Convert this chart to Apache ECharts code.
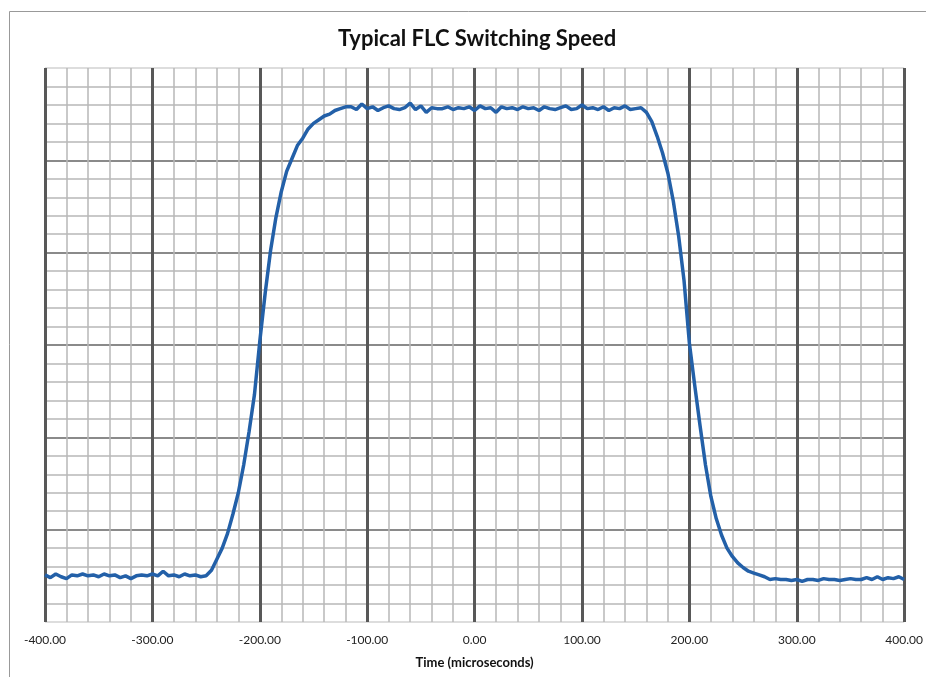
<!DOCTYPE html>
<html>
<head>
<meta charset="utf-8">
<script src="https://cdn.jsdelivr.net/npm/echarts@6/dist/echarts.min.js"></script>
<style>
html,body{margin:0;padding:0;background:#fff;}
#chart{width:926px;height:677px;}
</style>
</head>
<body>
<div id="chart"></div>
<script>
// Time (microseconds)
const times = [
-400,-395,-390,-385,-380,-375,-370,-365,-360,-355,-350,-345,-340,-335,-330,-325,-320,-315,-310,-305,
-300,-295,-290,-285,-280,-275,-270,-265,-260,-255,-250,-245,-240,-235,-230,-225,-220,-215,-210,-205,
-200,-195,-190,-185,-180,-175,-170,-165,-160,-155,-150,-145,-140,-135,-130,-125,-120,-115,-110,-105,
-100,-95,-90,-85,-80,-75,-70,-65,-60,-55,-50,-45,-40,-35,-30,-25,-20,-15,-10,-5,
0,5,10,15,20,25,30,35,40,45,50,55,60,65,70,75,80,85,90,95,
100,105,110,115,120,125,130,135,140,145,150,155,160,165,170,175,180,185,190,195,
200,205,210,215,220,225,230,235,240,245,250,255,260,265,270,275,280,285,290,295,
300,305,310,315,320,325,330,335,340,345,350,355,360,365,370,375,380,385,390,395,400
];
// Optical response (arbitrary units)
const signal = [
2.55,2.40,2.60,2.45,2.35,2.55,2.50,2.60,2.50,2.55,2.45,2.60,2.50,2.55,2.40,2.50,2.35,2.50,2.55,2.50,
2.60,2.50,2.75,2.50,2.55,2.45,2.60,2.50,2.55,2.45,2.50,2.80,3.40,4.00,4.80,5.85,7.00,8.50,10.30,12.30,
15.20,17.80,20.10,21.90,23.30,24.40,25.10,25.80,26.20,26.70,27.00,27.20,27.40,27.50,27.70,27.80,27.90,27.90,27.75,28.05,
27.80,27.90,27.70,27.85,27.95,27.80,27.75,27.85,28.10,27.75,27.95,27.60,27.85,27.80,27.80,27.90,27.75,27.85,27.80,27.90,
27.70,27.95,27.80,27.85,27.60,27.90,27.80,27.85,27.75,27.90,27.80,27.85,27.70,27.90,27.80,27.75,27.85,27.95,27.75,27.80,
28.00,27.80,27.85,27.75,27.90,27.70,27.85,27.80,27.95,27.75,27.80,27.85,27.60,27.10,26.30,25.40,24.30,22.80,20.90,18.50,
15.10,12.80,10.60,8.50,6.80,5.60,4.70,4.00,3.55,3.20,2.95,2.75,2.65,2.55,2.45,2.30,2.35,2.30,2.30,2.25,
2.30,2.20,2.30,2.30,2.25,2.35,2.30,2.30,2.25,2.30,2.35,2.30,2.30,2.40,2.30,2.45,2.30,2.40,2.35,2.45,2.30
];
const titleText = 'Typical FLC Switching Speed';
const xName = 'Time (microseconds)';

const points = times.map((t, i) => [t, signal[i]]);

const chart = echarts.init(document.getElementById('chart'), null, {renderer: 'canvas'});
chart.setOption({
  backgroundColor: '#ffffff',
  animation: false,
  title: {
    text: titleText,
    left: 333,
    top: 23,
    textStyle: {fontFamily: 'Lato', fontWeight: 'bold', fontSize: 22, color: '#111'}
  },
  graphic: [{
    type: 'rect',
    shape: {x: 9.5, y: 11.5, width: 940, height: 700},
    style: {fill: 'none', stroke: '#999', lineWidth: 1},
    silent: true, z: -10
  }],
  grid: {
    left: 45, right: 20, top: 68, bottom: 55,
    show: true, borderColor: '#bbb', borderWidth: 1,
    containLabel: false
  },
  xAxis: {
    type: 'value',
    min: -400, max: 400, interval: 100,
    name: xName,
    nameLocation: 'middle',
    nameGap: 34,
    nameTextStyle: {fontFamily: 'Lato', fontWeight: 'bold', fontSize: 13, color: '#111'},
    axisLine: {show: false},
    axisTick: {show: false},
    axisLabel: {
      margin: 12,
      fontFamily: 'Lato', fontSize: 12, color: '#222',
      formatter: v => v.toFixed(2)
    },
    splitLine: {show: true, showMinLine: true, showMaxLine: true, lineStyle: {color: '#585858', width: 3}},
    minorTick: {show: false, splitNumber: 5},
    minorSplitLine: {show: true, lineStyle: {color: '#b8b8b8', width: 1.5}}
  },
  yAxis: {
    type: 'value',
    min: 0, max: 30, interval: 5,
    axisLine: {show: false},
    axisTick: {show: false},
    axisLabel: {show: false},
    splitLine: {show: true, showMinLine: false, showMaxLine: false, lineStyle: {color: '#8a8a8a', width: 2}},
    minorTick: {show: false, splitNumber: 5},
    minorSplitLine: {show: true, lineStyle: {color: '#b8b8b8', width: 1.5}}
  },
  series: [{
    type: 'line',
    data: points,
    showSymbol: false,
    symbol: 'none',
    lineStyle: {color: '#2360a8', width: 3.5},
    z: 5
  }]
});
</script>
</body>
</html>
